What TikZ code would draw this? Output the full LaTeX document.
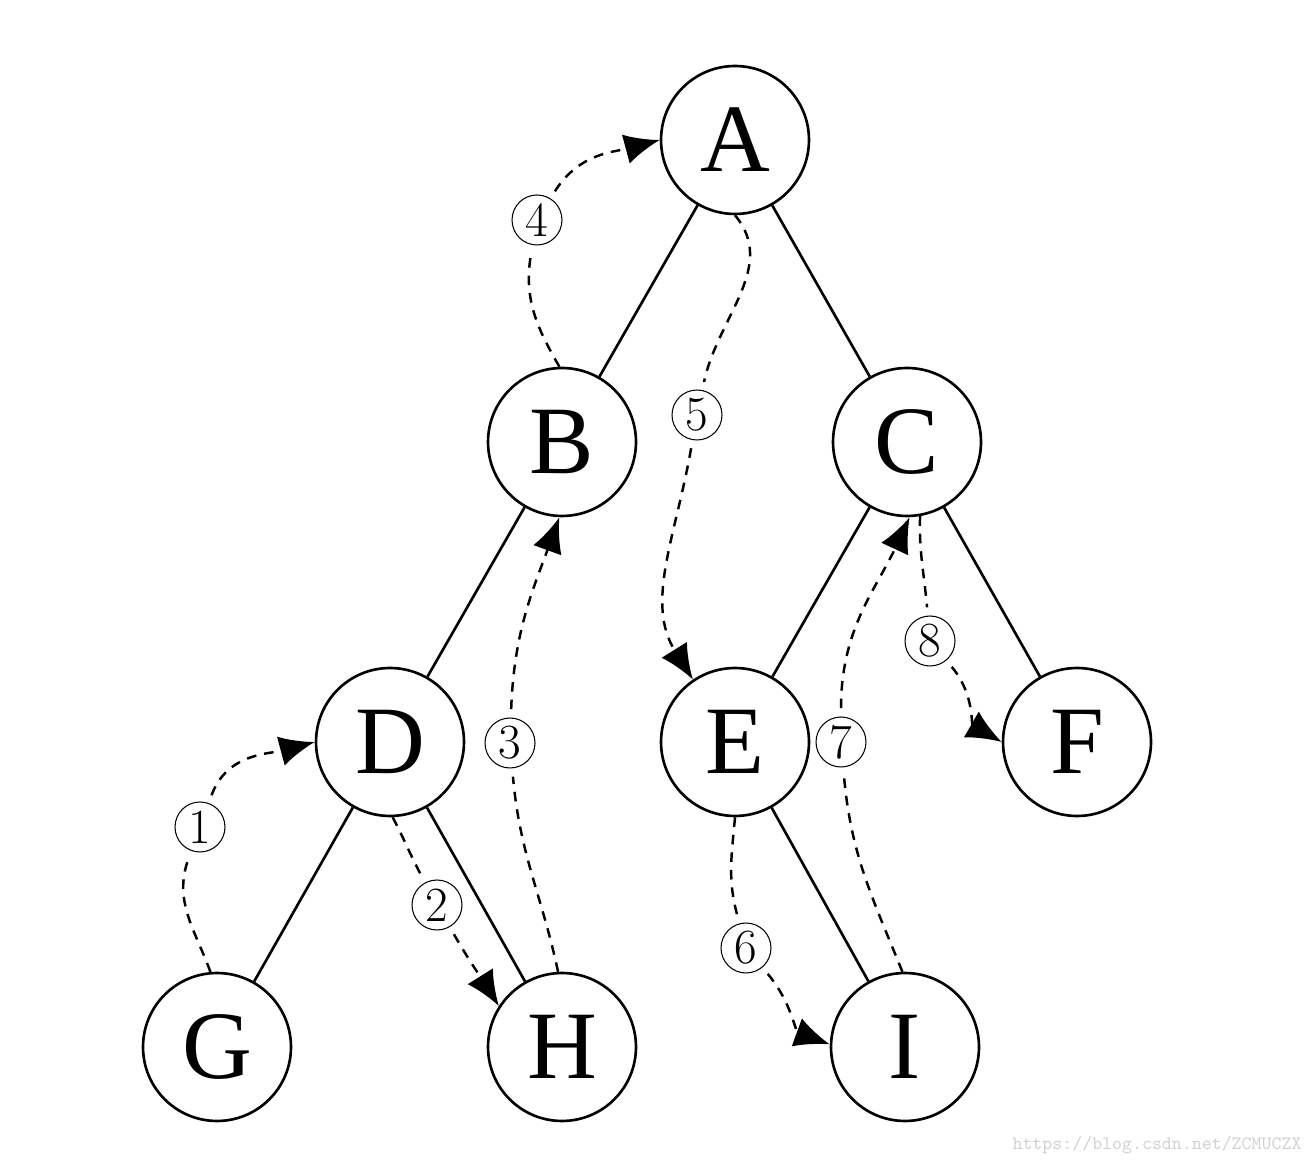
\documentclass[tikz,border=0pt]{standalone}
\usepackage{fontspec}
\newfontfamily\bigserif{Liberation Serif}
\usetikzlibrary{arrows.meta}
\begin{document}
\begin{tikzpicture}[x=0.02cm,y=0.02cm,
  tn/.style={circle,draw,line width=1.5pt,minimum size=2.96cm,inner sep=0pt,font=\bigserif\fontsize{55}{55}\selectfont},
  lab/.style={circle,draw,line width=0.6pt,minimum size=1cm,inner sep=0pt,outer sep=5pt,font=\fontsize{28}{28}\selectfont},
  treeedge/.style={line width=1.5pt},
  trav/.style={line width=1.4pt,dash pattern=on 5.5pt off 4.5pt},
  tip/.style={-{Latex[length=0.7cm,width=0.6cm]}}
]
\useasboundingbox (0,0) rectangle (1314,1166);
% tree nodes
\node[tn] (A) at (735,1026) {A};
\node[tn] (B) at (562,724) {B};
\node[tn] (C) at (907,724) {C};
\node[tn] (D) at (390,424) {D};
\node[tn] (E) at (735,424) {E};
\node[tn] (F) at (1077,424) {F};
\node[tn] (G) at (217,119) {G};
\node[tn] (H) at (562,119) {H};
\node[tn] (I) at (905,119) {I};
% tree edges
\draw[treeedge] (A) -- (B);
\draw[treeedge] (A) -- (C);
\draw[treeedge] (B) -- (D);
\draw[treeedge] (C) -- (E);
\draw[treeedge] (C) -- (F);
\draw[treeedge] (D) -- (G);
\draw[treeedge] (D) -- (H);
\draw[treeedge] (E) -- (I);
% step labels
\node[lab] (l1) at (200,339) {1};
\node[lab] (l2) at (437,261) {2};
\node[lab] (l3) at (510,423) {3};
\node[lab] (l4) at (537,946) {4};
\node[lab] (l5) at (697,751) {5};
\node[lab] (l6) at (746,218) {6};
\node[lab] (l7) at (841,424) {7};
\node[lab] (l8) at (930,525) {8};
% traversal paths
\draw[trav] (G.95) to[out=110,in=-110] (l1);
\draw[trav,tip] (l1) to[out=70,in=195] (D.west);
\draw[trav] (D.-88) to[out=-62,in=118] (l2);
\draw[trav,tip] (l2) to[out=-60,in=122] (H.147);
\draw[trav] (H.93) to[out=102,in=-85] (l3);
\draw[trav,tip] (l3) to[out=88,in=-110] (B.-92);
\draw[trav] (B.92) to[out=120,in=-100] (l4);
\draw[trav,tip] (l4) to[out=58,in=195] (A.west);
\draw[trav] (A.-90) to[out=-50,in=78] (l5);
\draw[trav,tip] (l5) to[out=-100,in=122] (E.124);
\draw[trav] (E.-90) to[out=-95,in=105] (l6);
\draw[trav,tip] (l6) to[out=-50,in=160] (I.178);
\draw[trav] (I.92) to[out=112,in=-85] (l7);
\draw[trav,tip] (l7) to[out=90,in=-115] (C.-88);
\draw[trav] (C.-80) to[out=-92,in=95] (l8);
\draw[trav,tip] (l8) to[out=-50,in=150] (F.west);
% watermark
\node[text=black!18,font=\ttfamily\fontsize{10.8}{12}\selectfont] (wm) at (1157,21) {https://blog.csdn.net/ZCMUCZX};
\end{tikzpicture}
\end{document}
